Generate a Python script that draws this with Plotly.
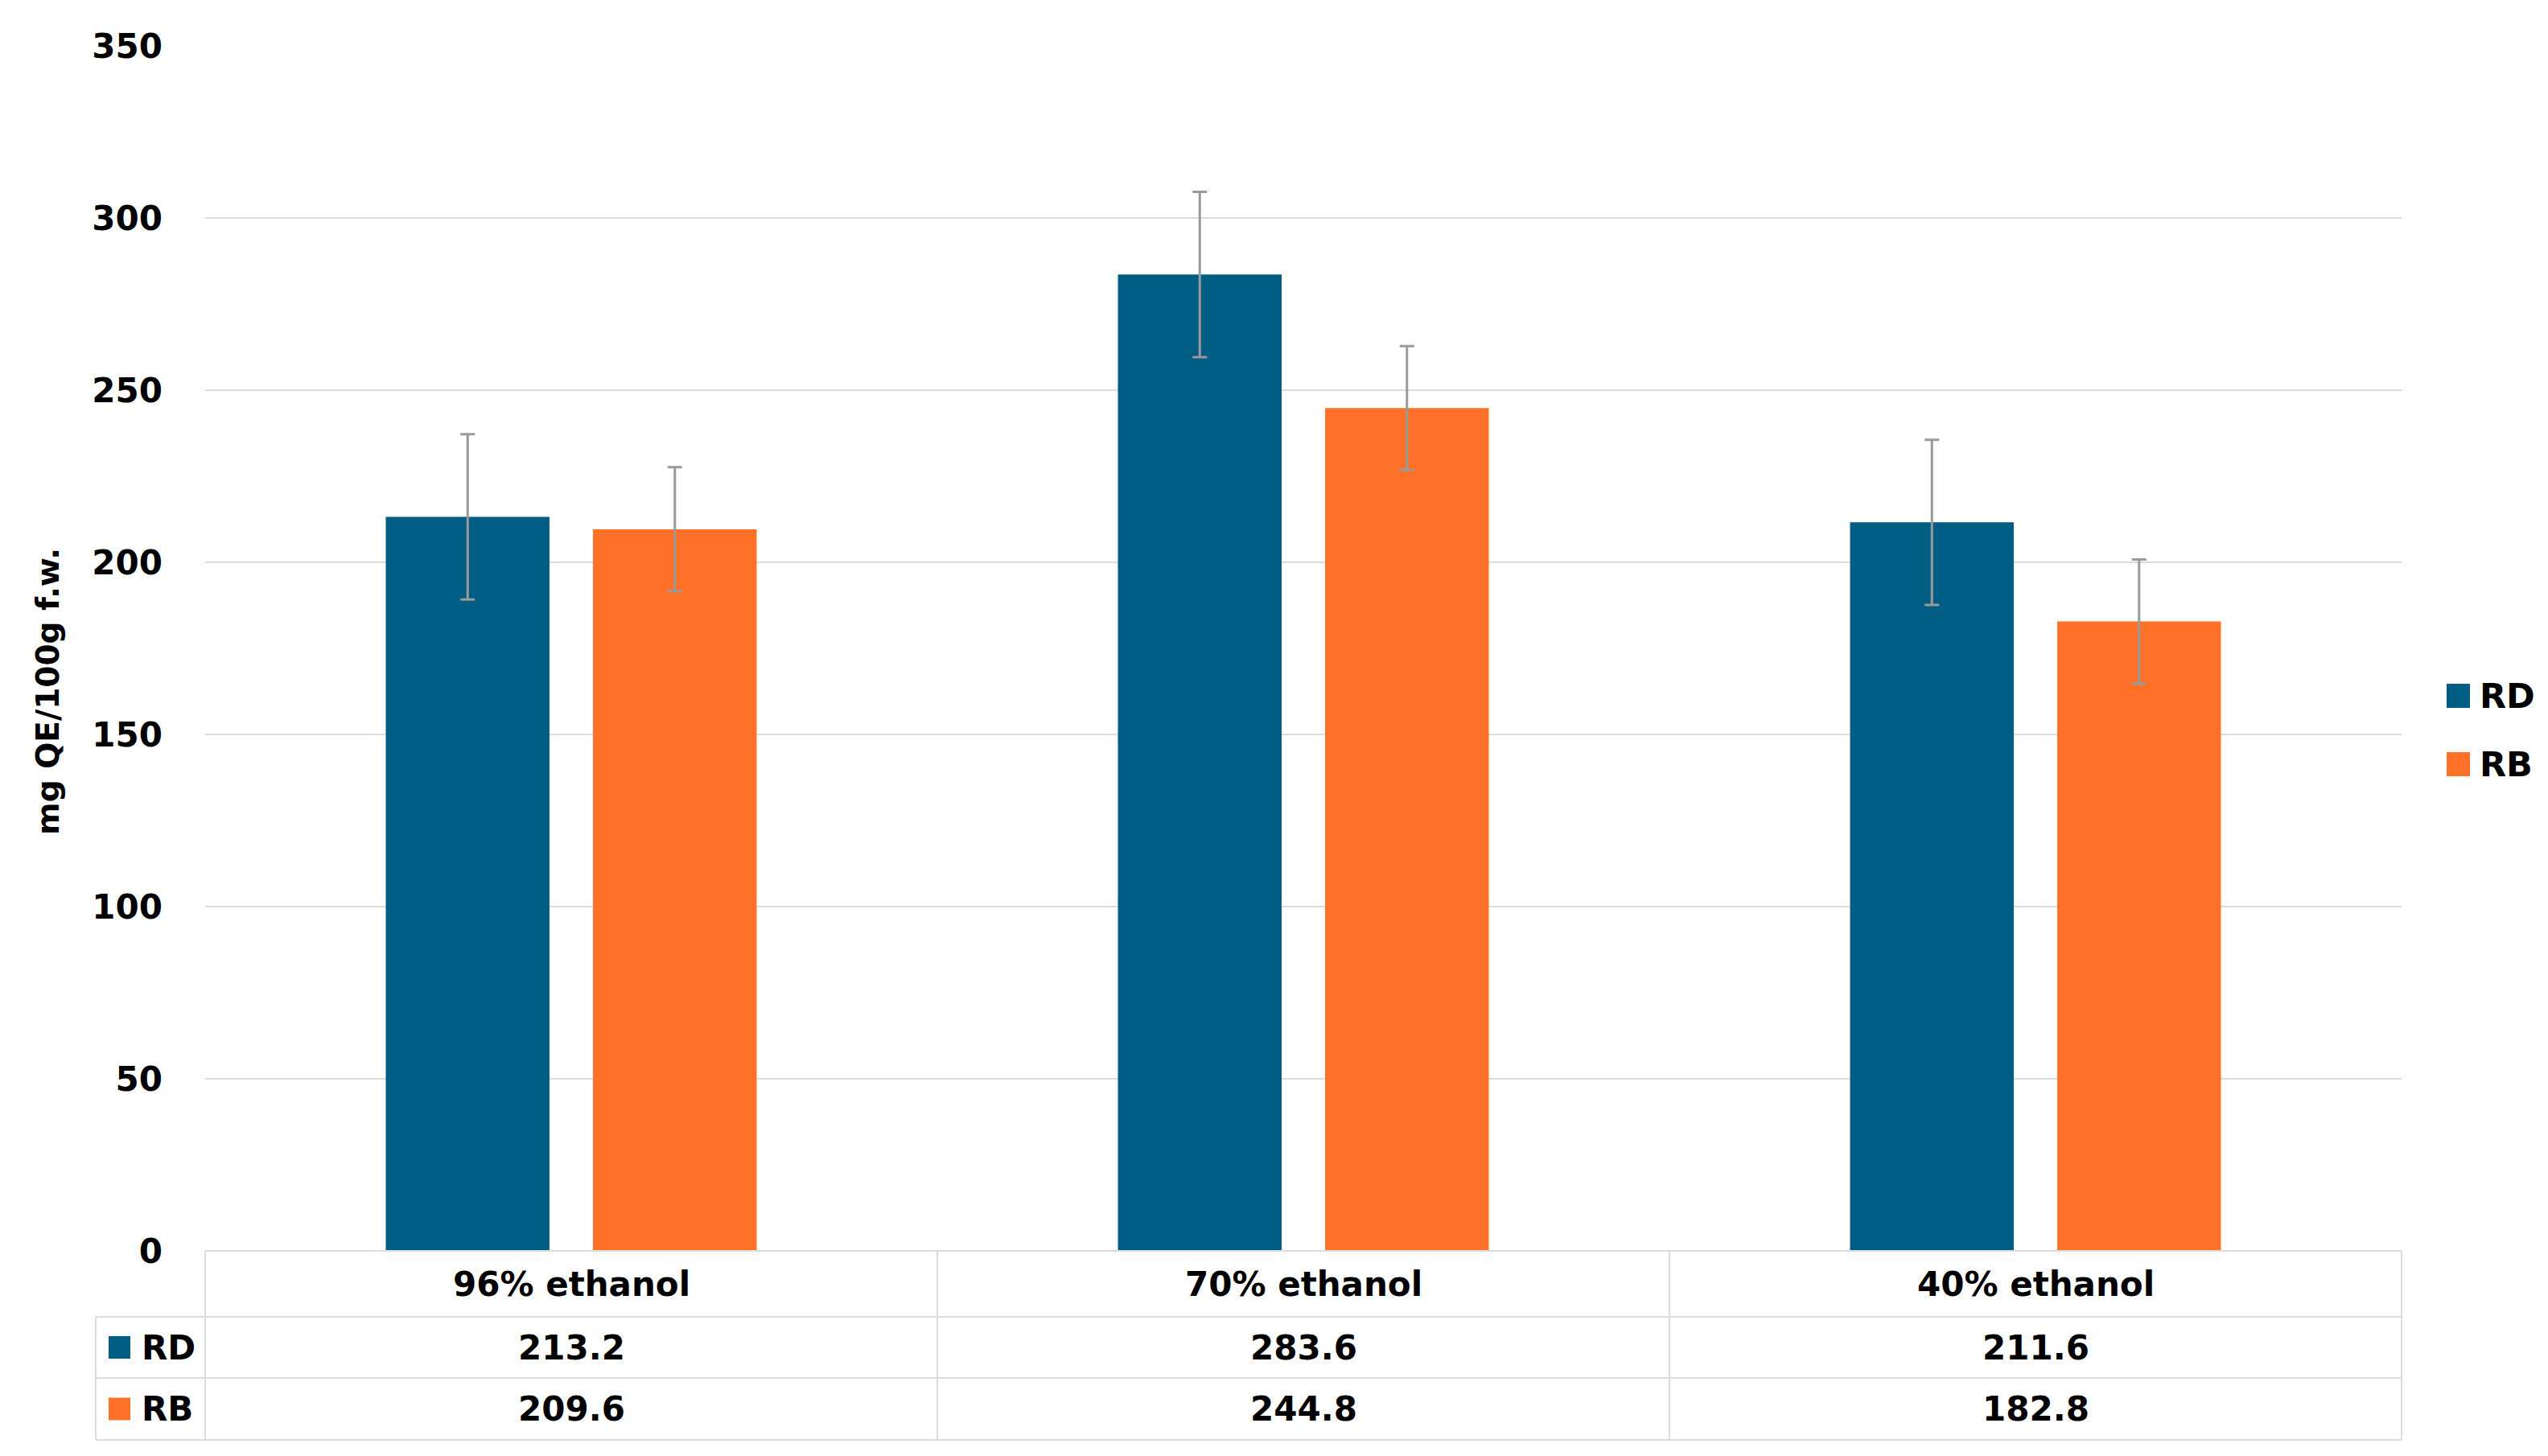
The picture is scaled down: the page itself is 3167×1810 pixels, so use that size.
import plotly.graph_objects as go

categories = ["96% ethanol", "70% ethanol", "40% ethanol"]
series_names = ["RD", "RB"]
rd_values = [213.2, 283.6, 211.6]
rb_values = [209.6, 244.8, 182.8]
rd_errors = [24, 24, 24]
rb_errors = [18, 18, 18]
y_ticks = [0, 50, 100, 150, 200, 250, 300, 350]

colors = {"RD": "#005E84", "RB": "#FF7029"}
FONT = "DejaVu Sans"
W, H = 3167, 1810
L, R, T, B = 247, 2977, 49, 1547  # plot area pixel bounds


def px_x(p):
    return (p - L) / (R - L)


def px_y(p):
    return (B - p) / (B - T)


fig = go.Figure()
for name, vals, errs in [("RD", rd_values, rd_errors), ("RB", rb_values, rb_errors)]:
    fig.add_trace(go.Bar(
        name=name, x=categories, y=vals,
        marker=dict(color=colors[name], line=dict(width=0)),
        error_y=dict(type="data", array=errs, visible=True, color="#9a9a9a",
                     thickness=3, width=9),
        showlegend=False,
    ))

grid = "#dcdcdc"
shapes = []
row_top, row_h1, row_h2, row_bot = 1547, 1629, 1705, 1782
left_col = 111
for yy, x0 in [(row_top, L), (row_h1, left_col), (row_h2, left_col), (row_bot, left_col)]:
    shapes.append(dict(type="line", xref="paper", yref="paper",
                       x0=px_x(x0), x1=1, y0=px_y(yy), y1=px_y(yy),
                       line=dict(color=grid, width=2)))
shapes.append(dict(type="line", xref="paper", yref="paper", x0=px_x(left_col), x1=px_x(left_col),
                   y0=px_y(row_h1), y1=px_y(row_bot), line=dict(color=grid, width=2)))
for i in range(len(categories) + 1):
    xv = i / len(categories)
    shapes.append(dict(type="line", xref="paper", yref="paper", x0=xv, x1=xv,
                       y0=px_y(row_top), y1=px_y(row_bot), line=dict(color=grid, width=2)))

annotations = []
tfont = dict(family=FONT, size=42, color="#000000")
for c in categories:
    annotations.append(dict(x=c, xref="x", y=px_y((row_top + row_h1) / 2), yref="paper",
                            text="<b>%s</b>" % c, showarrow=False, font=tfont,
                            xanchor="center", yanchor="middle"))
for vals, (y0, y1) in [(rd_values, (row_h1, row_h2)), (rb_values, (row_h2, row_bot))]:
    for c, v in zip(categories, vals):
        annotations.append(dict(x=c, xref="x", y=px_y((y0 + y1) / 2), yref="paper",
                                text="<b>%.1f</b>" % v, showarrow=False, font=tfont,
                                xanchor="center", yanchor="middle"))
for name, (y0, y1) in zip(series_names, [(row_h1, row_h2), (row_h2, row_bot)]):
    yc = (y0 + y1) / 2
    shapes.append(dict(type="rect", xref="paper", yref="paper",
                       x0=px_x(127), x1=px_x(154), y0=px_y(yc - 14), y1=px_y(yc + 14),
                       fillcolor=colors[name], line=dict(width=0)))
    annotations.append(dict(x=px_x(166), xref="paper", y=px_y(yc), yref="paper",
                            text="<b>%s</b>" % name, showarrow=False, font=tfont,
                            xanchor="left", yanchor="middle"))
for name, yc in zip(series_names, [857, 942]):
    shapes.append(dict(type="rect", xref="paper", yref="paper",
                       x0=px_x(3033), x1=px_x(3062), y0=px_y(yc - 15), y1=px_y(yc + 15),
                       fillcolor=colors[name], line=dict(width=0)))
    annotations.append(dict(x=px_x(3072), xref="paper", y=px_y(yc), yref="paper",
                            text="<b>%s</b>" % name, showarrow=False,
                            font=dict(family=FONT, size=43, color="#000000"),
                            xanchor="left", yanchor="middle"))
annotations.append(dict(x=px_x(51), xref="paper", y=px_y(852), yref="paper",
                        text="<b>mg QE/100g f.w.</b>", showarrow=False, textangle=-90,
                        font=dict(family=FONT, size=39, color="#000000"),
                        xanchor="center", yanchor="middle"))

fig.update_layout(
    width=W, height=H,
    margin=dict(l=L, r=W - R, t=T, b=H - B, pad=0),
    paper_bgcolor="white", plot_bgcolor="white",
    barmode="group", bargap=0.434, bargroupgap=0.21,
    xaxis=dict(showticklabels=False, showgrid=False, zeroline=False, showline=False,
               ticks=""),
    yaxis=dict(range=[0, 350], tickvals=y_ticks, showgrid=True, gridcolor=grid, gridwidth=2,
               zeroline=False, showline=False, ticks="", ticklabelstandoff=52,
               tickfont=dict(family=FONT, size=42, color="#000000", weight="bold")),
    shapes=shapes, annotations=annotations,
    font=dict(family=FONT),
)

fig.write_html("out.html")
